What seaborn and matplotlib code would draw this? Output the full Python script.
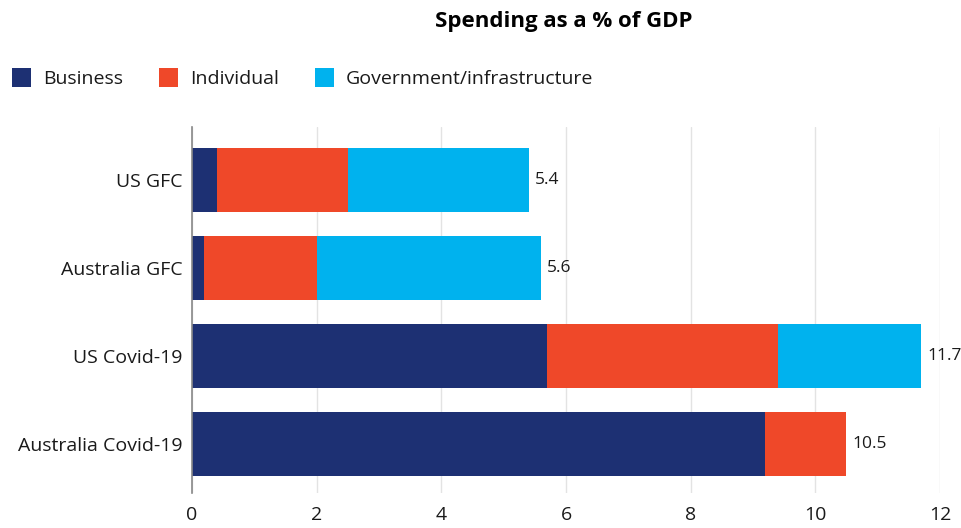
import matplotlib
matplotlib.use("Agg")
import matplotlib.pyplot as plt
from matplotlib.patches import Patch
import seaborn as sns
import pandas as pd

categories = ["US GFC", "Australia GFC", "US Covid-19", "Australia Covid-19"]
business = [0.4, 0.2, 5.7, 9.2]
individual = [2.1, 1.8, 3.7, 1.3]
government = [2.9, 3.6, 2.3, 0.0]
totals_label = ["5.4", "5.6", "11.7", "10.5"]
series_names = ["Business", "Individual", "Government/infrastructure"]
colors = ["#1d3073", "#ef4829", "#00b2ee"]
xticks = [0, 2, 4, 6, 8, 10, 12]

sns.set_theme(style="white")
plt.rcParams["font.family"] = ["Open Sans", "DejaVu Sans"]

df = pd.DataFrame({"cat": categories, "b": business, "i": individual, "g": government})
df["bi"] = df["b"] + df["i"]
df["big"] = df["bi"] + df["g"]

fig = plt.figure(figsize=(9.62, 5.28), dpi=100)
ax = fig.add_axes([192/962, 1-493/528, (940-192)/962, (493-127)/528])

ax.grid(axis="x", color="#e3e3e3", linewidth=1)
ax.set_axisbelow(True)

sns.barplot(data=df, y="cat", x="big", color=colors[2], width=0.725, ax=ax, saturation=1, orient="h", linewidth=0)
sns.barplot(data=df, y="cat", x="bi", color=colors[1], width=0.725, ax=ax, saturation=1, orient="h", linewidth=0)
sns.barplot(data=df, y="cat", x="b", color=colors[0], width=0.725, ax=ax, saturation=1, orient="h", linewidth=0)

for k, (tot, lab) in enumerate(zip(df["big"], totals_label)):
    ax.text(tot + 0.1, k, lab, va="center", ha="left", fontsize=12.5, color="#1a1a1a")

ax.set_xlim(0, 12)
ax.set_ylim(3.555, -0.6)
ax.set_xticks(xticks)
ax.set_xticklabels([str(t) for t in xticks])
ax.set_xlabel("")
ax.set_ylabel("")
for s in ["top", "right", "bottom"]:
    ax.spines[s].set_visible(False)
ax.spines["left"].set_color("#888888")
ax.spines["left"].set_linewidth(1.2)
ax.tick_params(axis="x", length=0, pad=9, labelsize=14, labelcolor="#1a1a1a")
ax.tick_params(axis="y", length=0, pad=7, labelsize=14, labelcolor="#1a1a1a")

handles = [Patch(facecolor=c, edgecolor="none") for c in colors]
fig.legend(handles, series_names, loc="center left", bbox_to_anchor=(2/962, 1-78/528),
           ncol=3, frameon=False, handlelength=1.0, handleheight=1.1, handletextpad=0.6,
           columnspacing=1.85, borderaxespad=0.1, fontsize=14, labelcolor="#1a1a1a")

fig.text(564/962, 1-22/528, "Spending as a % of GDP", ha="center", va="center",
         fontsize=16, fontweight="bold", color="black")

fig.savefig("out.png", dpi=100)
